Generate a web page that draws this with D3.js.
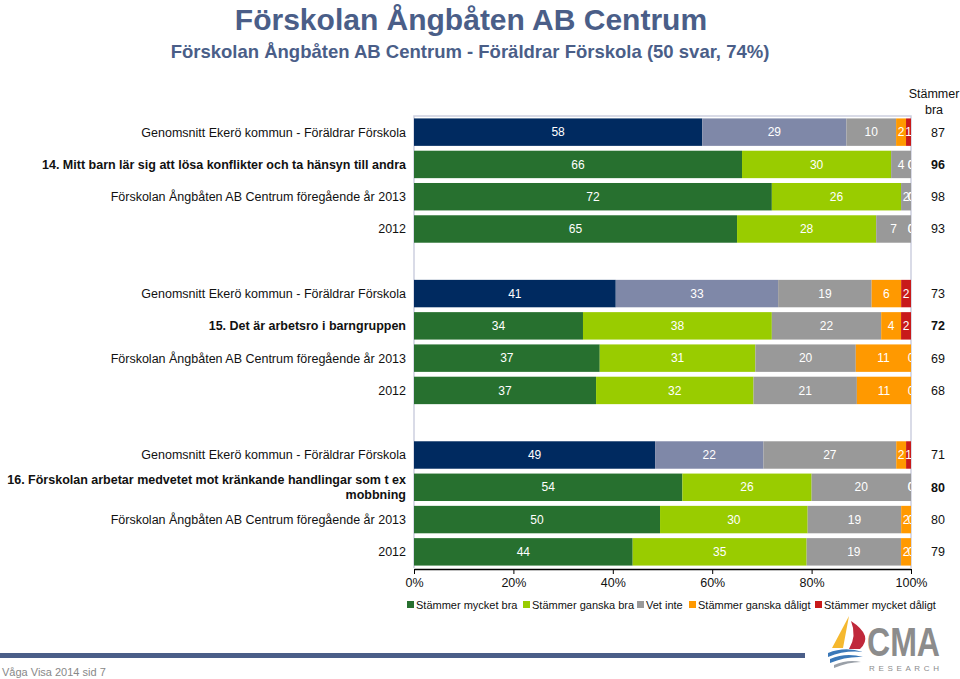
<!DOCTYPE html>
<html>
<head>
<meta charset="utf-8">
<script src="https://cdn.jsdelivr.net/npm/d3@7"></script>
<style>
  body { margin: 0; background: #fff; }
  svg { font-family: "Liberation Sans", Arial, sans-serif; }
</style>
</head>
<body>
<div id="graph"></div>
<script>
// radetiketter, null = tom rad mellan grupperna
const rowLabels = [
  "Genomsnitt Ekerö kommun - Föräldrar Förskola",
  "14. Mitt barn lär sig att lösa konflikter och ta hänsyn till andra",
  "Förskolan Ångbåten AB Centrum föregående år 2013",
  "2012",
  null,
  "Genomsnitt Ekerö kommun - Föräldrar Förskola",
  "15. Det är arbetsro i barngruppen",
  "Förskolan Ångbåten AB Centrum föregående år 2013",
  "2012",
  null,
  "Genomsnitt Ekerö kommun - Föräldrar Förskola",
  "16. Förskolan arbetar medvetet mot kränkande handlingar som t ex|mobbning",
  "Förskolan Ångbåten AB Centrum föregående år 2013",
  "2012"
];
const rowType = ["avg","q","prev","prev",null,"avg","q","prev","prev",null,"avg","q","prev","prev"];

const mycketBra    = [58, 66, 72, 65, null, 41, 34, 37, 37, null, 49, 54, 50, 44];
const ganskaBra    = [29, 30, 26, 28, null, 33, 38, 31, 32, null, 22, 26, 30, 35];
const vetInte      = [10,  4,  2,  7, null, 19, 22, 20, 21, null, 27, 20, 19, 19];
const ganskaDaligt = [ 2,  0,  0,  0, null,  6,  4, 11, 11, null,  2,  0,  2,  2];
const mycketDaligt = [ 1,  0,  0,  0, null,  2,  2,  0,  0, null,  1,  0,  0,  0];
const stammerBra   = [87, 96, 98, 93, null, 73, 72, 69, 68, null, 71, 80, 80, 79];

const seriesNames = ["Stämmer mycket bra", "Stämmer ganska bra", "Vet inte", "Stämmer ganska dåligt", "Stämmer mycket dåligt"];
const seriesColors = ["#27702f", "#99cc00", "#999999", "#ff9900", "#c81a1a"];
const avgColors = ["#002a60", "#7f88a8", "#999999", "#ff9900", "#c81a1a"];
const xTicks = [0, 0.2, 0.4, 0.6, 0.8, 1];

const width = 960, height = 679;
const margin = {top: 116, right: 49, bottom: 111, left: 414};

const svg = d3.select("#graph").append("svg")
  .attr("width", width)
  .attr("height", height);

// titel
svg.append("text")
  .attr("x", 471).attr("y", 30)
  .attr("text-anchor", "middle")
  .attr("font-size", 30).attr("font-weight", "bold")
  .attr("fill", "#4a5e88")
  .text("Förskolan Ångbåten AB Centrum");
svg.append("text")
  .attr("x", 470).attr("y", 58)
  .attr("text-anchor", "middle")
  .attr("font-size", 18.5).attr("font-weight", "bold")
  .attr("fill", "#4a5e88")
  .text("Förskolan Ångbåten AB Centrum - Föräldrar Förskola (50 svar, 74%)");

// skalor
const x = d3.scaleLinear().domain([0, 1]).range([margin.left, width - margin.right]);
const y = d3.scaleBand()
  .domain(d3.range(rowLabels.length))
  .range([margin.top, height - margin.bottom])
  .paddingInner(0.15)
  .paddingOuter(0.075);

const series = [mycketBra, ganskaBra, vetInte, ganskaDaligt, mycketDaligt];
const rows = d3.range(rowLabels.length).filter(i => rowLabels[i] !== null).map(i => {
  const vals = series.map(s => s[i]);
  const total = d3.sum(vals);
  let acc = 0;
  const segs = vals.map((v, k) => {
    const s = {row: i, k, v, x0: acc / total, x1: (acc + v) / total};
    acc += v;
    return s;
  });
  return {i, segs};
});

// ram runt plotytan
svg.append("path")
  .attr("d", `M${x(0)},${height - margin.bottom}V${margin.top}H${x(1)}V${height - margin.bottom}`)
  .attr("fill", "none")
  .attr("stroke", "#cdd0e0")
  .attr("stroke-width", 1.5);

svg.append("clipPath").attr("id", "plotclip")
  .append("rect")
  .attr("x", x(0)).attr("y", margin.top)
  .attr("width", x(1) - x(0)).attr("height", height - margin.bottom - margin.top);

const plot = svg.append("g").attr("clip-path", "url(#plotclip)");

const rowG = plot.selectAll("g.row")
  .data(rows)
  .join("g")
  .attr("class", "row");

rowG.selectAll("rect")
  .data(d => d.segs)
  .join("rect")
  .attr("x", d => x(d.x0))
  .attr("y", d => y(d.row))
  .attr("width", d => x(d.x1) - x(d.x0))
  .attr("height", y.bandwidth())
  .attr("fill", d => (rowType[d.row] === "avg" ? avgColors : seriesColors)[d.k]);

rowG.selectAll("text")
  .data(d => d.segs)
  .join("text")
  .attr("x", d => (x(d.x0) + x(d.x1)) / 2)
  .attr("y", d => y(d.row) + y.bandwidth() / 2)
  .attr("dy", "0.35em")
  .attr("text-anchor", "middle")
  .attr("font-size", 12)
  .attr("fill", "#fff")
  .text(d => d.v);

// radetiketter
const lab = svg.selectAll("text.rowlab")
  .data(rows)
  .join("text")
  .attr("class", "rowlab")
  .attr("text-anchor", "end")
  .attr("font-size", 12.5)
  .attr("fill", "#111")
  .attr("font-weight", d => rowType[d.i] === "q" ? "bold" : "normal");
lab.each(function(d) {
  const lines = rowLabels[d.i].split("|");
  const cy = y(d.i) + y.bandwidth() / 2;
  d3.select(this).selectAll("tspan")
    .data(lines)
    .join("tspan")
    .attr("x", x(0) - 8)
    .attr("y", (l, j) => cy + (j - (lines.length - 1) / 2) * 15)
    .attr("dy", "0.35em")
    .text(l => l);
});

// Stämmer bra-kolumn
svg.append("text")
  .attr("x", 934).attr("y", 98)
  .attr("text-anchor", "middle").attr("font-size", 12.5).attr("fill", "#111")
  .text("Stämmer");
svg.append("text")
  .attr("x", 934).attr("y", 114)
  .attr("text-anchor", "middle").attr("font-size", 12.5).attr("fill", "#111")
  .text("bra");
svg.selectAll("text.sb")
  .data(rows)
  .join("text")
  .attr("class", "sb")
  .attr("x", 938)
  .attr("y", d => y(d.i) + y.bandwidth() / 2)
  .attr("dy", "0.35em")
  .attr("text-anchor", "middle")
  .attr("font-size", 12.5)
  .attr("font-weight", d => rowType[d.i] === "q" ? "bold" : "normal")
  .attr("fill", "#111")
  .text(d => stammerBra[d.i]);

// x-axel
const xAxis = svg.append("g")
  .attr("transform", `translate(0,${height - margin.bottom + 1})`)
  .call(d3.axisBottom(x).tickValues(xTicks).tickFormat(d3.format(".0%")).tickSize(5).tickSizeOuter(0));
xAxis.select(".domain").attr("stroke", "#000").attr("stroke-width", 1.5);
xAxis.selectAll(".tick line").attr("stroke", "#000");
xAxis.selectAll(".tick text")
  .attr("font-family", "Liberation Sans, Arial, sans-serif")
  .attr("font-size", 12.5).attr("fill", "#111").attr("y", 9);

// förklaring
const legendX = [407, 523, 637, 689, 815];
const leg = svg.append("g").selectAll("g")
  .data(seriesNames)
  .join("g")
  .attr("transform", (d, i) => `translate(${legendX[i]},605)`);
leg.append("rect")
  .attr("x", 0).attr("y", -4).attr("width", 7).attr("height", 7)
  .attr("fill", (d, i) => seriesColors[i]);
leg.append("text")
  .attr("x", 9).attr("dy", "0.35em")
  .attr("font-size", 11).attr("fill", "#111")
  .text(d => d);

// sidfot
svg.append("rect")
  .attr("x", 0).attr("y", 653).attr("width", 805).attr("height", 5)
  .attr("fill", "#4a5e88");
svg.append("text")
  .attr("x", 2).attr("y", 676)
  .attr("font-size", 11).attr("fill", "#888")
  .text("Våga Visa 2014 sid 7");

// CMA logga
const logo = svg.append("g");
logo.append("path")
  .attr("d", "M849,616 L832,648 L843,648 Z")
  .attr("fill", "#f5b82e");
logo.append("path")
  .attr("d", "M851,621 Q874,636 860,649 L849,649 Q857,636 851,621 Z")
  .attr("fill", "#c0283a");
logo.append("path")
  .attr("d", "M828,653 Q845,646 863,652 Q845,650 828,657 Z")
  .attr("fill", "#3a78b8");
logo.append("path")
  .attr("d", "M830,659 Q846,652 863,657 Q846,656 830,663 Z")
  .attr("fill", "#3a78b8");
logo.append("path")
  .attr("d", "M834,665 Q848,659 861,662 Q848,662 834,668 Z")
  .attr("fill", "#9aa0a8");
logo.append("text")
  .attr("x", 867).attr("y", 656)
  .attr("font-size", 40).attr("font-weight", "bold")
  .attr("fill", "#8c8c8c")
  .attr("textLength", 73)
  .attr("lengthAdjust", "spacingAndGlyphs")
  .text("CMA");
logo.append("text")
  .attr("x", 869).attr("y", 671)
  .attr("font-size", 8)
  .attr("fill", "#8c8c8c")
  .attr("textLength", 70)
  .text("RESEARCH");
</script>
</body>
</html>
